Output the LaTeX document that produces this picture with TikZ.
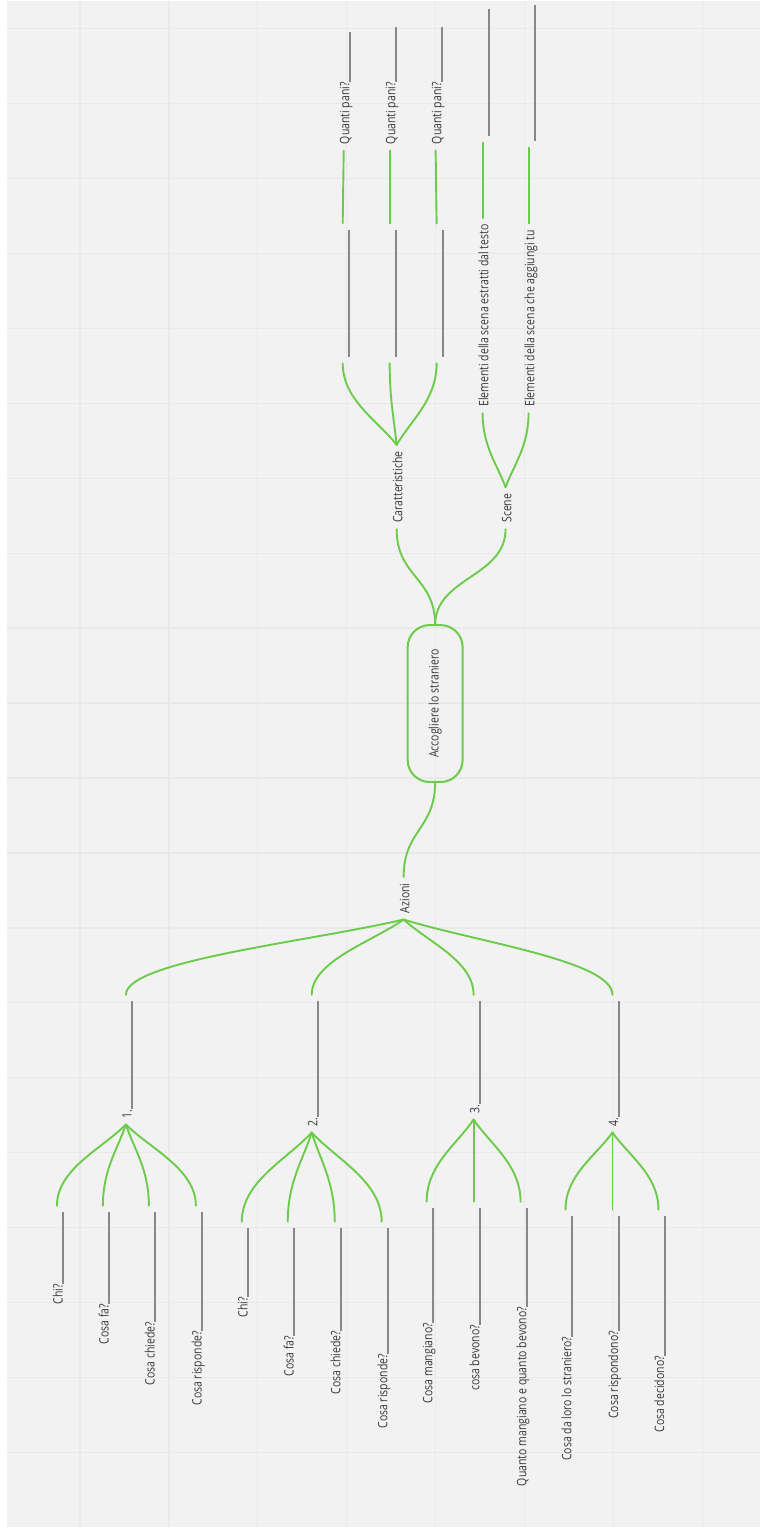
\documentclass[tikz,border=0pt]{standalone}
\usepackage{fontspec}
\setmainfont{Open Sans}
\usetikzlibrary{calc}
\definecolor{bgc}{HTML}{F2F2F2}
\definecolor{gridc}{HTML}{E9E9E9}
\definecolor{grn}{HTML}{6CCB4B}
\definecolor{ulc}{HTML}{878787}
\definecolor{txtc}{HTML}{383838}
\newcommand{\lab}[1]{\scalebox{0.808}[1]{#1}}
\newcommand{\ulin}[1]{\textcolor{ulc}{\rule[-1.4pt]{#1pt}{1.7pt}}}
\begin{document}
\begin{tikzpicture}[x=1pt,y=-1pt,
  mm/.style={rotate=90, inner xsep=6.5pt, inner ysep=0pt, outer sep=0pt,
    text height=11.5pt, text depth=0pt, font=\fontsize{13}{15}\selectfont, text=txtc},
  rootbox/.style={mm, draw=grn, line width=2pt, rounded corners=22pt,
    minimum width=157pt, minimum height=55pt, text height=, text depth=},
  gline/.style={draw=grn, line width=1.9pt, line cap=round},
  branch/.style={gline, to path={let \p1=(\tikztostart), \p2=(\tikztotarget) in
    .. controls ({\x1+0.35*(\x2-\x1)}, {\y1+0.3*(\y2-\y1)}) and (\x2, {0.45*\y1+0.55*\y2}) .. (\tikztotarget)}},
  scurve/.style={gline, to path={let \p1=(\tikztostart), \p2=(\tikztotarget) in
    .. controls (\x1, {0.5*\y1+0.5*\y2}) and (\x2, {0.5*\y1+0.5*\y2}) .. (\tikztotarget)}}
]
% background
\fill[white] (0,0) rectangle (761,1528);
\fill[bgc] (7,0) rectangle (761,1528);
\foreach \gx in {80,169,258,347,436,525,614,703}
  \draw[gridc, line width=1.3pt] (\gx,0) -- (\gx,1528);
\foreach \gy in {28,103,178,253,328,403,478,553,628,703,778,853,928,1003,1078,1153,1228,1303,1378,1453}
  \draw[gridc, line width=1.3pt] (7,\gy) -- (761,\gy);
\useasboundingbox (0,0) rectangle (761,1528);

% root
\node[rootbox] (root) at (435.5,703.5) {\lab{Accogliere lo straniero}};

% right side
\node[mm, anchor=west] (car) at (397,529) {\lab{Caratteristiche}};
\node[mm, anchor=west] (scene) at (506,529) {\lab{Scene}};

\node[mm, anchor=west] (b1) at (343,363) {\ulin{127}};
\node[mm, anchor=west] (b2) at (390,363) {\ulin{127}};
\node[mm, anchor=west] (b3) at (437,363) {\ulin{127}};
\node[mm, anchor=west] (q1) at (344,150) {\lab{Quanti pani?}\ulin{50}};
\node[mm, anchor=west] (q2) at (390,150) {\lab{Quanti pani?}\ulin{55}};
\node[mm, anchor=west] (q3) at (436,150) {\lab{Quanti pani?}\ulin{55}};

\node[mm, anchor=west] (e1) at (483,413) {\lab{Elementi della scena estratti dal testo}};
\node[mm, anchor=west] (e2) at (529,413) {\lab{Elementi della scena che aggiungi tu}};
\node[mm, anchor=west] (s1) at (483,142) {\ulin{127}};
\node[mm, anchor=west] (s2) at (529,147) {\ulin{136}};

% left side
\node[mm, anchor=east] (az) at (404,877) {\lab{Azioni}};
\node[mm, anchor=east] (n1) at (126,995) {\lab{1.}\ulin{108}};
\node[mm, anchor=east] (n2) at (312,995) {\lab{2.}\ulin{116}};
\node[mm, anchor=east] (n3) at (474,995) {\lab{3.}\ulin{103}};
\node[mm, anchor=east] (n4) at (613,995) {\lab{4.}\ulin{116}};

\node[mm, anchor=east] (a1) at (57,1206) {\lab{Chi?}\ulin{72}};
\node[mm, anchor=east] (a2) at (103,1206) {\lab{Cosa fa?}\ulin{92}};
\node[mm, anchor=east] (a3) at (149,1206) {\lab{Cosa chiede?}\ulin{110}};
\node[mm, anchor=east] (a4) at (196,1206) {\lab{Cosa risponde?}\ulin{119}};

\node[mm, anchor=east] (c1) at (242,1222) {\lab{Chi?}\ulin{69}};
\node[mm, anchor=east] (c2) at (288,1222) {\lab{Cosa fa?}\ulin{108}};
\node[mm, anchor=east] (c3) at (335,1222) {\lab{Cosa chiede?}\ulin{103}};
\node[mm, anchor=east] (c4) at (382,1222) {\lab{Cosa risponde?}\ulin{126}};

\node[mm, anchor=east] (d1) at (427,1202) {\lab{Cosa mangiano?}\ulin{115}};
\node[mm, anchor=east] (d2) at (474,1202) {\lab{cosa bevono?}\ulin{117}};
\node[mm, anchor=east] (d3) at (521,1202) {\lab{Quanto mangiano e quanto bevono?}\ulin{99}};

\node[mm, anchor=east] (f1) at (566,1210) {\lab{Cosa da loro lo straniero?}\ulin{121}};
\node[mm, anchor=east] (f2) at (613,1210) {\lab{Cosa rispondono?}\ulin{115}};
\node[mm, anchor=east] (f3) at (659,1210) {\lab{Cosa decidono?}\ulin{140}};

% connectors
\draw[scurve] (root.east) to (car.west);
\draw[scurve] (root.east) to (scene.west);
\draw[scurve] (root.west) to (az.east);

\foreach \k in {b1,b2,b3} \draw[branch] (car.east) to (\k.west);
\draw[gline] (b1.east) -- (q1.west);
\draw[gline] (b2.east) -- (q2.west);
\draw[gline] (b3.east) -- (q3.west);
\foreach \k in {e1,e2} \draw[branch] (scene.east) to (\k.west);
\draw[gline] (e1.east) -- (s1.west);
\draw[gline] (e2.east) -- (s2.west);

\foreach \k in {n1,n2,n3,n4} \draw[branch] (az.west) to (\k.east);
\foreach \k in {a1,a2,a3,a4} \draw[branch] (n1.west) to (\k.east);
\foreach \k in {c1,c2,c3,c4} \draw[branch] (n2.west) to (\k.east);
\foreach \k in {d1,d2,d3} \draw[branch] (n3.west) to (\k.east);
\foreach \k in {f1,f2,f3} \draw[branch] (n4.west) to (\k.east);
\end{tikzpicture}
\end{document}
